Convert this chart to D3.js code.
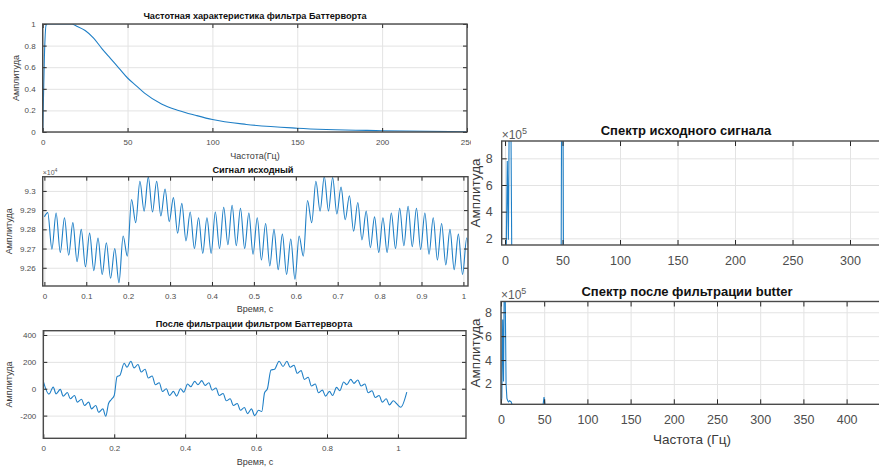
<!DOCTYPE html>
<html>
<head>
<meta charset="utf-8">
<script src="https://cdn.jsdelivr.net/npm/d3@7"></script>
<style>
  body { margin: 0; background: #fff; }
  svg { display: block; }
  text { font-family: "Liberation Sans", Arial, sans-serif; }
</style>
</head>
<body>
<svg id="chart"></svg>
<script>
const width = 879;
const height = 467;

// --- Частотная характеристика фильтра
const respFreq = [0, 1, 2, 3, 10, 17, 20, 25, 30, 35, 40, 45, 50, 55, 60, 70, 80, 90, 100, 120, 150, 200, 250];
const respAmp = [0, 0.7, 0.99, 1, 1, 1, 0.98, 0.94, 0.87, 0.77, 0.68, 0.59, 0.5, 0.43, 0.36, 0.26, 0.2, 0.155, 0.115, 0.07, 0.035, 0.012, 0.003];

// --- Сигнал исходный: extremes of each oscillation
const rawTime = [0, 0.008, 0.018, 0.028, 0.038, 0.048, 0.058, 0.068, 0.078, 0.088, 0.098, 0.108, 0.118, 0.128, 0.138, 0.148, 0.158, 0.168, 0.178, 0.188, 0.198,
  0.208, 0.218, 0.228, 0.238, 0.248, 0.258, 0.268, 0.278, 0.288, 0.298, 0.308, 0.318, 0.328, 0.338, 0.348, 0.358, 0.368, 0.378, 0.388, 0.398,
  0.408, 0.418, 0.428, 0.438, 0.448, 0.458, 0.468, 0.478, 0.488, 0.498, 0.508, 0.518, 0.528, 0.538, 0.548, 0.558, 0.568, 0.578, 0.588, 0.598,
  0.608, 0.618, 0.628, 0.638, 0.648, 0.658, 0.668, 0.678, 0.688, 0.698, 0.708, 0.718, 0.728, 0.738, 0.748, 0.758, 0.768, 0.778, 0.788, 0.798,
  0.808, 0.818, 0.828, 0.838, 0.848, 0.858, 0.868, 0.878, 0.888, 0.898, 0.908, 0.918, 0.928, 0.938, 0.948, 0.958, 0.968, 0.978, 0.988, 0.998,
  1.008, 1.018];
const rawAmp = [92865, 92887, 92697, 92885, 92680, 92860, 92665, 92835, 92632, 92800, 92605, 92780, 92585, 92755, 92565, 92730, 92545, 92700, 92522, 92765, 92660,
  92955, 92835, 93050, 92895, 93072, 92890, 93050, 92870, 93010, 92840, 92965, 92780, 92935, 92740, 92890, 92700, 92860, 92675, 92860, 92675,
  92890, 92700, 92915, 92720, 92925, 92715, 92910, 92700, 92885, 92670, 92860, 92640, 92830, 92610, 92800, 92590, 92775, 92565, 92750, 92540,
  92765, 92660, 92950, 92835, 93050, 92895, 93075, 92895, 93070, 92880, 93020, 92850, 92975, 92790, 92940, 92745, 92895, 92705, 92865, 92680,
  92860, 92680, 92885, 92700, 92910, 92715, 92920, 92710, 92910, 92695, 92885, 92670, 92860, 92640, 92830, 92615, 92800, 92590, 92775, 92565,
  92755, 92540];

// --- После фильтрации фильтром Баттерворта
const filtTime = [0, 0.016, 0.028, 0.036, 0.048, 0.056, 0.068, 0.076, 0.088, 0.096, 0.108, 0.116, 0.128, 0.136, 0.148, 0.156, 0.168, 0.176, 0.184, 0.192, 0.2,
  0.208, 0.216, 0.228, 0.236, 0.247, 0.256, 0.267, 0.276, 0.287, 0.296, 0.307, 0.316, 0.327, 0.336, 0.347, 0.356, 0.367, 0.376, 0.387, 0.396,
  0.407, 0.416, 0.427, 0.436, 0.447, 0.456, 0.467, 0.476, 0.487, 0.496, 0.507, 0.516, 0.527, 0.536, 0.547, 0.556, 0.567, 0.576, 0.587, 0.596,
  0.607, 0.616, 0.624, 0.632, 0.642, 0.652, 0.665, 0.676, 0.687, 0.696, 0.707, 0.716, 0.727, 0.736, 0.747, 0.756, 0.767, 0.776, 0.787, 0.796,
  0.807, 0.816, 0.827, 0.836, 0.847, 0.856, 0.867, 0.876, 0.887, 0.896, 0.907, 0.916, 0.927, 0.936, 0.947, 0.956, 0.967, 0.976, 0.987, 0.996,
  1.008, 1.025];
const filtAmp = [55, -40, 12, -38, -5, -55, -28, -75, -50, -100, -78, -125, -100, -150, -125, -175, -150, -205, -110, -80, -50,
  90, 100, 190, 160, 205, 155, 180, 125, 145, 80, 95, 30, 45, -20, 0, -50, -20, -55, 0, -25,
  35, 15, 55, 30, 60, 25, 45, -10, 5, -50, -35, -90, -75, -125, -110, -160, -140, -185, -150, -200,
  -160, -170, -30, 0, 140, 145, 205, 165, 205, 160, 175, 115, 135, 70, 85, 20, 35, -30, -10, -55,
  -20, -50, 10, -15, 50, 30, 70, 40, 65, 20, 35, -30, -15, -65, -50, -100, -75, -120, -90, -110,
  -138, -25];

// --- Спектр исходного сигнала
const specFreq = [0, 0.98, 1.95, 2.93, 3.91, 4.88, 5.86, 6.84, 20, 48.8, 49.8, 50.8, 100, 500];
const specAmp = [5000, 60000, 780000, 190000, 1500000, 1400000, 60000, 30000, 20000, 30000, 3000000, 30000, 10000, 5000];

// --- Спектр после фильтрации butter
const filtSpecFreq = [0, 0.98, 1.95, 2.93, 3.91, 4.88, 5.86, 6.84, 7.81, 8.79, 9.77, 10.74, 11.72, 12.7, 20, 48.8, 49.8, 50.8, 60, 500];
const filtSpecAmp = [10000, 90000, 740000, 220000, 1200000, 950000, 200000, 80000, 60000, 50000, 60000, 55000, 50000, 30000, 15000, 30000, 90000, 30000, 10000, 5000];

const svg = d3.select("#chart").attr("width", width).attr("height", height);

let clipId = 0;

// one MATLAB-like axes
const drawPanel = (o) => {
  const x = d3.scaleLinear().domain(o.xDomain).range([o.left, o.right]);
  const y = d3.scaleLinear().domain(o.yDomain).range([o.bottom, o.top]);
  const g = svg.append("g");
  const w = o.right - o.left;
  const h = o.bottom - o.top;
  // only ticks that fall inside the window
  const xTicks = o.xTicks.filter((d) => x(d) < width - 8);

  const id = "clip" + clipId++;
  svg.append("clipPath").attr("id", id)
    .append("rect").attr("x", o.left).attr("y", o.top).attr("width", w).attr("height", h);

  // grid
  g.append("g").attr("transform", `translate(0,${o.bottom})`)
    .call(d3.axisBottom(x).tickValues(xTicks).tickSize(-h).tickFormat(""))
    .call((s) => s.select(".domain").remove())
    .selectAll("line").attr("stroke", "#e3e3e3").attr("stroke-width", 1);
  g.append("g").attr("transform", `translate(${o.left},0)`)
    .call(d3.axisLeft(y).tickValues(o.yTicks).tickSize(-w).tickFormat(""))
    .call((s) => s.select(".domain").remove())
    .selectAll("line").attr("stroke", "#e3e3e3").attr("stroke-width", 1);

  // line
  const line = d3.line().x((d) => x(d[0])).y((d) => y(d[1])).curve(o.curve || d3.curveLinear);
  g.append("path")
    .datum(o.xs.map((v, i) => [v, o.ys[i]]))
    .attr("clip-path", `url(#${id})`)
    .attr("fill", "none")
    .attr("stroke", "#1f7fc6")
    .attr("stroke-width", o.lineWidth || 1.1)
    .attr("d", line);

  // ticks on all four sides, inside
  const tl = o.tickLen;
  const axes = [
    [d3.axisBottom(x).tickValues(xTicks).tickFormat(o.xFormat), `translate(0,${o.bottom})`],
    [d3.axisTop(x).tickValues(xTicks).tickFormat(""), `translate(0,${o.top})`],
    [d3.axisLeft(y).tickValues(o.yTicks).tickFormat(o.yFormat), `translate(${o.left},0)`],
    [d3.axisRight(y).tickValues(o.yTicks).tickFormat(""), `translate(${o.right},0)`],
  ];
  axes.forEach(([ax, tr], i) => {
    const a = g.append("g").attr("transform", tr)
      .call(ax.tickSize(-tl).tickSizeOuter(0).tickPadding(i < 2 ? o.xPad + tl : o.yPad + tl));
    a.select(".domain").remove();
    a.selectAll("line").attr("stroke", "#262626").attr("stroke-width", 1);
    a.selectAll("text")
      .attr("font-size", o.tickFont)
      .attr("fill", "#4d4d4d")
      .attr("font-family", "Liberation Sans, Arial, sans-serif");
  });

  // box
  g.append("rect")
    .attr("x", o.left).attr("y", o.top).attr("width", w).attr("height", h)
    .attr("fill", "none").attr("stroke", "#4a4a4a").attr("stroke-width", o.boxWidth || 1.4);

  // title & labels
  g.append("text").attr("x", o.titleX).attr("y", o.titleY)
    .attr("text-anchor", "middle").attr("font-weight", "bold")
    .attr("font-size", o.titleFont).attr("fill", "#111").text(o.title);
  if (o.xLabel) {
    g.append("text").attr("x", o.xLabelX).attr("y", o.xLabelY)
      .attr("text-anchor", "middle").attr("font-size", o.labelFont)
      .attr("fill", "#3a3a3a").text(o.xLabel);
  }
  g.append("text")
    .attr("transform", `translate(${o.yLabelX},${(o.top + o.bottom) / 2}) rotate(-90)`)
    .attr("text-anchor", "middle").attr("font-size", o.labelFont)
    .attr("fill", "#3a3a3a").text("Амплитуда");
  if (o.exponent) {
    const t = g.append("text").attr("x", o.left).attr("y", o.expY)
      .attr("font-size", o.expFont).attr("fill", "#5a5a5a");
    t.append("tspan").text("×10");
    t.append("tspan").attr("dy", -o.expFont * 0.4).attr("font-size", o.expFont * 0.75).text(o.exponent);
  }
  return g;
};

const fmtNum = (d) => String(d);

// 1. frequency response
drawPanel({
  left: 42.7, right: 467, top: 24, bottom: 132,
  xDomain: [0, 250], yDomain: [0, 1],
  xTicks: [0, 50, 100, 150, 200, 250], yTicks: [0, 0.2, 0.4, 0.6, 0.8, 1],
  xFormat: fmtNum, yFormat: fmtNum,
  xs: respFreq, ys: respAmp, curve: d3.curveMonotoneX,
  tickLen: 4, tickFont: 8, xPad: 3, yPad: 3,
  title: "Частотная характеристика фильтра Баттерворта", titleX: 255, titleY: 19, titleFont: 9.2,
  xLabel: "Частота(Гц)", xLabelX: 255, xLabelY: 158.5, labelFont: 9,
  yLabelX: 19,
});

// 2. raw signal
drawPanel({
  left: 42.7, right: 468, top: 176.7, bottom: 286,
  xDomain: [-0.004, 1.011], yDomain: [92505, 93074],
  xTicks: d3.range(0, 1.01, 0.1), yTicks: [92600, 92700, 92800, 92900, 93000],
  xFormat: (d) => d3.format("~g")(+d.toFixed(1)), yFormat: (d) => d3.format("~g")(d / 1e4),
  xs: rawTime, ys: rawAmp, curve: d3.curveMonotoneX,
  tickLen: 4, tickFont: 8, xPad: 3, yPad: 3,
  title: "Сигнал исходный", titleX: 253, titleY: 173, titleFont: 9.2,
  xLabel: "Время, с", xLabelX: 255, xLabelY: 312, labelFont: 9,
  yLabelX: 12,
  exponent: "4", expY: 175, expFont: 7,
});

// 3. filtered signal
drawPanel({
  left: 43.3, right: 466, top: 330.7, bottom: 438.3,
  xDomain: [0, 1.192], yDomain: [-369, 432],
  xTicks: [0, 0.2, 0.4, 0.6, 0.8, 1], yTicks: [-200, 0, 200, 400],
  xFormat: (d) => d3.format("~g")(d), yFormat: fmtNum,
  xs: filtTime, ys: filtAmp, curve: d3.curveMonotoneX,
  tickLen: 4, tickFont: 8, xPad: 3, yPad: 3,
  title: "После фильтрации фильтром Баттерворта", titleX: 254, titleY: 327, titleFont: 9.2,
  xLabel: "Время, с", xLabelX: 255, xLabelY: 465, labelFont: 9,
  yLabelX: 12,
});

// right panel sheet (covers the left figure edge)
svg.append("rect").attr("x", 471).attr("y", 112).attr("width", width - 471).attr("height", height - 112).attr("fill", "#fff");

// 4. spectrum of the raw signal
drawPanel({
  left: 501.7, right: 1080, top: 141, bottom: 245,
  xDomain: [-2.9, 500], yDomain: [150000, 930000],
  xTicks: d3.range(0, 501, 50), yTicks: [200000, 400000, 600000, 800000],
  xFormat: fmtNum, yFormat: (d) => d / 1e5,
  xs: specFreq, ys: specAmp,
  tickLen: 5, tickFont: 12.5, xPad: 6, yPad: 4,
  title: "Спектр исходного сигнала", titleX: 686, titleY: 135, titleFont: 13,
  yLabelX: 480, labelFont: 13.5,
  exponent: "5", expY: 139, expFont: 12,
});

// 5. spectrum after filtering
drawPanel({
  left: 501, right: 933, top: 301.5, bottom: 404.3,
  xDomain: [0, 500], yDomain: [30000, 890000],
  xTicks: d3.range(0, 501, 50), yTicks: [200000, 400000, 600000, 800000],
  xFormat: fmtNum, yFormat: (d) => d / 1e5,
  xs: filtSpecFreq, ys: filtSpecAmp,
  tickLen: 5, tickFont: 12.5, xPad: 6, yPad: 4,
  title: "Спектр после фильтрации butter", titleX: 687, titleY: 296, titleFont: 13,
  xLabel: "Частота (Гц)", xLabelX: 692, xLabelY: 444, labelFont: 13.5,
  yLabelX: 480,
  exponent: "5", expY: 299, expFont: 12,
});
</script>
</body>
</html>
